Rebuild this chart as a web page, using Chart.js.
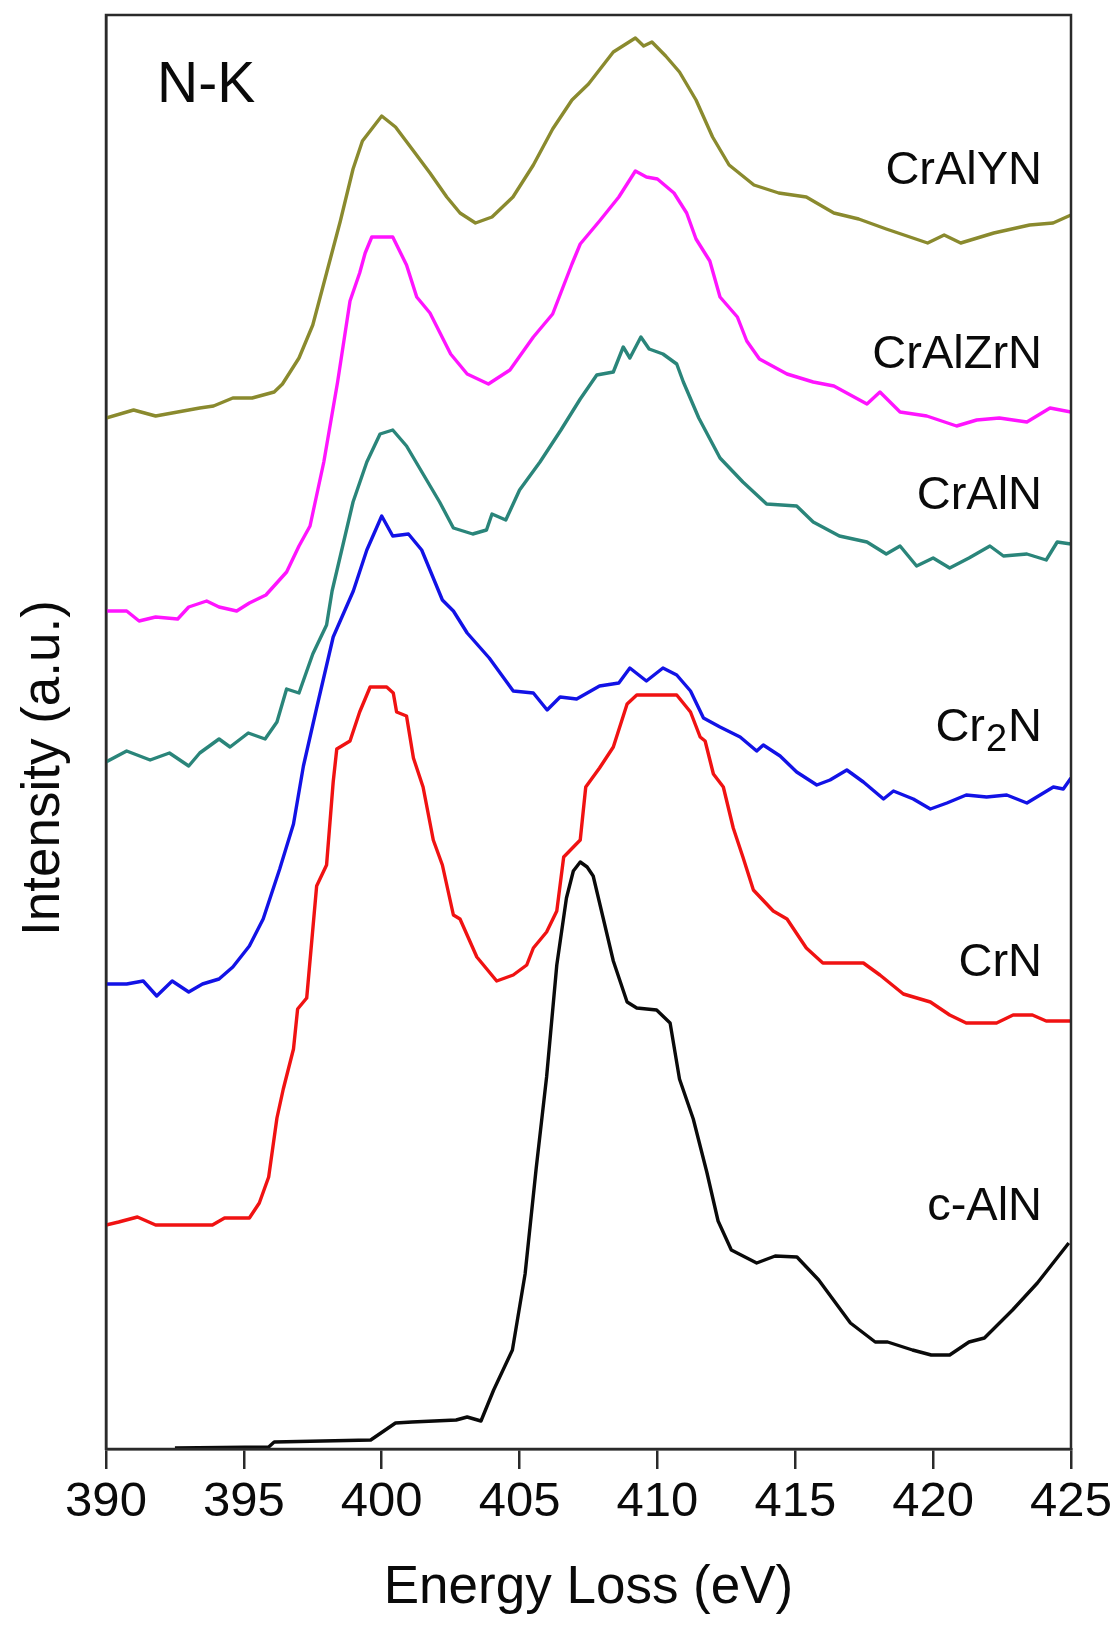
<!DOCTYPE html>
<html>
<head>
<meta charset="utf-8">
<script src="https://cdn.jsdelivr.net/npm/chart.js@4.4.0/dist/chart.umd.min.js"></script>
<style>
  html, body { margin: 0; padding: 0; background: #fff; }
</style>
</head>
<body>
<canvas id="myChart" width="1120" height="1625"></canvas>
<script>
// N-K edge spectra, energy loss (eV) vs intensity (a.u., offset per sample)
const crAlYN_E = [390.0, 391.0, 391.8, 392.6, 393.4, 393.9, 394.6, 395.3, 396.1, 396.4, 397.0, 397.5, 398.0, 398.5, 398.96, 399.3, 400.0, 400.5, 401.1, 401.75, 402.36, 402.84, 403.4, 404.0, 404.76, 405.5, 406.2, 406.9, 407.5, 408.4, 409.2, 409.5, 409.8, 410.3, 410.8, 411.4, 412.0, 412.6, 413.5, 414.4, 415.4, 416.4, 417.3, 418.3, 419.8, 420.4, 421.0, 422.2, 423.5, 424.35, 425.0]
const crAlYN_I = [1031, 1039, 1033, 1037, 1041, 1043, 1051, 1051, 1057, 1065, 1091, 1124, 1176, 1228, 1280, 1308, 1333, 1322, 1300, 1276, 1252, 1236, 1226, 1232, 1252, 1284, 1320, 1349, 1365, 1397, 1411, 1403, 1407, 1393, 1377, 1349, 1312, 1284, 1264, 1256, 1252, 1236, 1230, 1220, 1206, 1214, 1206, 1216, 1224, 1226, 1234]

const crAlZrN_E = [390.0, 390.75, 391.2, 391.8, 392.6, 393.0, 393.65, 394.1, 394.74, 395.2, 395.8, 396.55, 397.0, 397.4, 397.9, 398.4, 398.85, 399.2, 399.4, 399.64, 400.4, 400.9, 401.27, 401.75, 402.5, 403.1, 403.87, 404.65, 405.5, 406.2, 406.9, 407.2, 407.9, 408.6, 409.2, 409.6, 410.0, 410.6, 411.06, 411.4, 411.9, 412.27, 412.9, 413.24, 413.7, 414.7, 415.65, 416.4, 417.6, 418.07, 418.8, 419.77, 420.85, 421.58, 422.4, 423.4, 424.24, 425.0]
const crAlZrN_I = [838, 838, 828, 832, 830, 842, 848, 842, 838, 846, 854, 877, 903, 923, 987, 1067, 1148, 1176, 1196, 1212, 1212, 1184, 1152, 1136, 1095, 1075, 1065, 1079, 1112, 1135, 1185, 1205, 1228, 1252, 1278, 1272, 1270, 1256, 1236, 1210, 1188, 1152, 1132, 1108, 1090, 1075, 1067, 1063, 1045, 1057, 1037, 1033, 1023, 1029, 1031, 1027, 1041, 1037]

const crAlN_E = [390.0, 390.75, 391.6, 392.3, 393.0, 393.4, 394.1, 394.5, 395.16, 395.77, 396.2, 396.55, 397.0, 397.5, 398.0, 398.2, 398.96, 399.46, 399.94, 400.4, 400.9, 401.5, 402.1, 402.6, 403.3, 403.8, 404.0, 404.5, 405.0, 405.74, 406.5, 407.2, 407.8, 408.4, 408.76, 409.0, 409.4, 409.7, 410.2, 410.7, 410.94, 411.5, 412.27, 413.1, 413.96, 415.05, 415.65, 416.6, 417.6, 418.3, 418.8, 419.4, 420.0, 420.6, 421.3, 422.06, 422.55, 423.4, 424.1, 424.5, 425.0]
const crAlN_I = [687, 698, 689, 696, 683, 696, 710, 702, 716, 710, 727, 760, 756, 795, 824, 858, 947, 987, 1015, 1019, 1003, 975, 947, 921, 915, 919, 935, 929, 959, 987, 1019, 1050, 1074, 1077, 1102, 1091, 1112, 1100, 1095, 1085, 1067, 1031, 991, 967, 945, 943, 927, 913, 907, 895, 903, 883, 891, 881, 891, 903, 893, 895, 889, 907, 905]

const cr2N_E = [390.0, 390.75, 391.35, 391.84, 392.4, 393.0, 393.5, 394.1, 394.6, 395.2, 395.7, 396.3, 396.8, 397.16, 397.64, 398.24, 398.97, 399.46, 400.0, 400.4, 400.97, 401.45, 401.87, 402.2, 402.6, 403.1, 403.9, 404.77, 405.5, 406.0, 406.47, 407.07, 407.9, 408.6, 409.0, 409.6, 410.2, 410.7, 411.2, 411.67, 412.27, 413.0, 413.6, 413.84, 414.45, 415.05, 415.78, 416.26, 416.87, 417.47, 418.2, 418.56, 419.28, 419.9, 420.5, 421.2, 421.94, 422.67, 423.4, 423.88, 424.36, 424.72, 425.0]
const cr2N_I = [465, 465, 468, 453, 468, 457, 465, 470, 482, 503, 530, 580, 625, 683, 741, 812, 858, 899, 933, 913, 915, 899, 871, 849, 838, 816, 791, 758, 756, 739, 752, 750, 763, 766, 781, 768, 781, 774, 758, 731, 722, 712, 698, 704, 693, 677, 664, 669, 679, 667, 650, 658, 650, 640, 646, 654, 652, 654, 646, 654, 662, 660, 671]

const crN_E = [390.0, 390.46, 391.14, 391.8, 393.86, 394.3, 395.2, 395.56, 395.9, 396.2, 396.43, 396.8, 396.95, 397.28, 397.64, 398.0, 398.24, 398.37, 398.85, 399.2, 399.58, 400.18, 400.42, 400.54, 400.9, 401.15, 401.5, 401.87, 402.2, 402.6, 402.84, 403.45, 404.17, 404.77, 405.26, 405.5, 405.98, 406.35, 406.6, 407.2, 407.4, 407.9, 408.4, 408.9, 409.25, 410.7, 411.2, 411.55, 411.73, 412.03, 412.39, 412.75, 413.1, 413.48, 414.2, 414.7, 415.4, 416.0, 417.47, 418.07, 418.92, 419.9, 420.6, 421.2, 422.3, 422.9, 423.6, 424.1, 425.0]
const crN_I = [224, 227, 232, 224, 224, 231, 231, 246, 272, 331, 360, 400, 440, 451, 563, 584, 667, 700, 708, 737, 762, 762, 756, 737, 733, 691, 662, 609, 584, 534, 530, 492, 468, 474, 484, 501, 517, 538, 592, 609, 662, 681, 702, 745, 754, 754, 737, 712, 708, 675, 662, 621, 592, 559, 538, 530, 501, 486, 486, 474, 455, 447, 434, 426, 426, 434, 434, 428, 428]

const cAlN_E = [392.5, 395.9, 396.1, 399.6, 400.5, 401.1, 402.7, 403.1, 403.6, 404.06, 404.74, 405.2, 405.6, 405.98, 406.35, 406.7, 406.95, 407.2, 407.45, 407.67, 408.04, 408.4, 408.9, 409.25, 409.97, 410.46, 410.8, 411.3, 411.79, 412.2, 412.68, 413.6, 414.27, 415.06, 415.85, 417.0, 417.9, 418.35, 419.25, 419.93, 420.6, 421.3, 421.86, 422.88, 423.78, 424.92]
const cAlN_I = [1, 2, 7, 9, 26, 27, 29, 32, 28, 59, 99, 175, 280, 372, 484, 551, 578, 587, 582, 573, 530, 488, 447, 441, 439, 426, 370, 330, 277, 228, 199, 186, 193, 192, 169, 126, 107, 107, 99, 94, 94, 107, 111, 139, 166, 206]

const xTicks = [390, 395, 400, 405, 410, 415, 420, 425]
const sampleNames = ['CrAlYN', 'CrAlZrN', 'CrAlN', 'Cr2N', 'CrN', 'c-AlN']

const FONT = "'Liberation Sans', Arial, Helvetica, sans-serif"
const INK = '#0a0a0a'
const AXIS = '#2a2a2a'

const series = [
  { e: crAlYN_E, i: crAlYN_I, color: '#8a8a2e' },
  { e: crAlZrN_E, i: crAlZrN_I, color: '#ff14ff' },
  { e: crAlN_E, i: crAlN_I, color: '#2a857a' },
  { e: cr2N_E, i: cr2N_I, color: '#1212e6' },
  { e: crN_E, i: crN_I, color: '#f01212' },
  { e: cAlN_E, i: cAlN_I, color: '#0a0a0a' }
]

// where each name sits (right edge in eV, middle in a.u.)
const labelSpots = [
  { x: 423.95, y: 1278 },
  { x: 423.95, y: 1094 },
  { x: 423.95, y: 953 },
  { x: 423.95, y: 721 },
  { x: 423.95, y: 486 },
  { x: 423.95, y: 242 }
]

const datasets = series.map((s, n) => ({
  label: sampleNames[n],
  data: s.e.map((x, k) => ({ x: x, y: s.i[k] })),
  borderColor: s.color,
  borderWidth: 3.4,
  borderJoinStyle: 'round',
  pointRadius: 0,
  showLine: true,
  fill: false,
  tension: 0
}))

const frame = {
  id: 'frame',
  afterDraw(chart) {
    const { ctx, chartArea: a } = chart
    ctx.save()
    ctx.strokeStyle = AXIS
    ctx.lineWidth = 2.5
    ctx.strokeRect(a.left, a.top, a.right - a.left, a.bottom - a.top)
    ctx.restore()
  }
}

const texts = {
  id: 'texts',
  afterDraw(chart) {
    const { ctx, scales } = chart
    ctx.save()
    ctx.fillStyle = INK
    ctx.textBaseline = 'middle'

    // panel tag
    ctx.font = '57px ' + FONT
    ctx.textAlign = 'left'
    ctx.fillText('N-K', scales.x.getPixelForValue(391.85), scales.y.getPixelForValue(1363))

    // sample names
    ctx.font = '47px ' + FONT
    sampleNames.forEach((name, n) => {
      const px = scales.x.getPixelForValue(labelSpots[n].x)
      const py = scales.y.getPixelForValue(labelSpots[n].y)
      ctx.textAlign = 'right'
      if (name === 'Cr2N') {
        ctx.fillText('N', px, py)
        const wN = ctx.measureText('N').width
        ctx.font = '38px ' + FONT
        ctx.fillText('2', px - wN - 1, py + 13)
        const w2 = ctx.measureText('2').width
        ctx.font = '47px ' + FONT
        ctx.fillText('Cr', px - wN - w2 - 2, py)
      } else {
        ctx.fillText(name, px, py)
      }
    })

    // y title
    ctx.translate(44, 768)
    ctx.rotate(-Math.PI / 2)
    ctx.textAlign = 'center'
    ctx.font = '53px ' + FONT
    ctx.fillText('Intensity (a.u.)', 0, 0)
    ctx.restore()
  }
}

const ctx = document.getElementById('myChart').getContext('2d')
const myChart = new Chart(ctx, {
  type: 'scatter',
  data: { datasets: datasets },
  options: {
    responsive: false,
    animation: false,
    layout: { padding: { top: 15, right: 49, left: 0, bottom: 0 } },
    plugins: { legend: { display: false }, tooltip: { enabled: false } },
    scales: {
      x: {
        type: 'linear',
        min: 390,
        max: 425,
        afterBuildTicks(scale) { scale.ticks = xTicks.map(v => ({ value: v })) },
        ticks: { font: { family: FONT, size: 49 }, color: INK, padding: 4, maxRotation: 0, autoSkip: false },
        grid: { drawOnChartArea: false, drawTicks: true, tickLength: 20, color: AXIS, lineWidth: 2.5 },
        border: { display: true, color: AXIS, width: 2.5 },
        title: { display: true, text: 'Energy Loss (eV)', font: { family: FONT, size: 53 }, color: INK, padding: { top: 0, bottom: 5 } },
        afterFit(scale) { scale.height = 176 }
      },
      y: {
        min: 0,
        max: 1434,
        ticks: { display: false },
        grid: { drawOnChartArea: false, drawTicks: false },
        border: { display: true, color: AXIS, width: 2.5 },
        afterFit(scale) { scale.width = 106 }
      }
    }
  },
  plugins: [frame, texts]
})
</script>
</body>
</html>
